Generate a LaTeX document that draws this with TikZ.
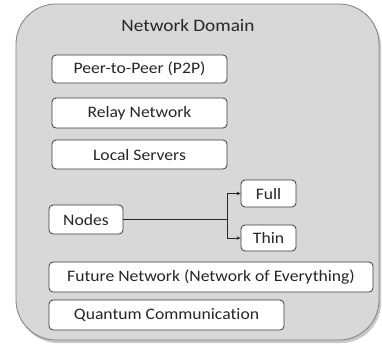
\documentclass[tikz,border=0pt]{standalone}
\usepackage{fontspec}
\setmainfont{Carlito}[FakeStretch=1.1, Ligatures=NoCommon]
\usetikzlibrary{arrows.meta}
\definecolor{domfill}{RGB}{216,216,216}
\definecolor{domline}{RGB}{128,128,128}
\definecolor{boxline}{RGB}{60,60,60}
\tikzset{
  box/.style={draw=boxline, fill=white, rounded corners=4pt, line width=0.8pt, inner sep=0pt, font=\fontsize{16}{18}\selectfont, text=black!85},
  conn/.style={draw=black!85, line width=0.8pt},
  tip/.style={-{Stealth[length=4pt,width=3.5pt]}}
}
\begin{document}
\begin{tikzpicture}[x=1pt,y=-1pt]
\useasboundingbox (0,0) rectangle (382,349);
\path[fill=black!22, rounded corners=40pt] (18,7) rectangle (381,343);
\path[draw=domline, fill=domfill, line width=0.8pt, rounded corners=40pt] (16,4) rectangle (379,340);
\node[font=\fontsize{17.5}{19}\selectfont, text=black!85] (title) at (188,25) {Network Domain};
\node[box, minimum width=175pt, minimum height=28pt] (p2p) at (139.5,69) {Peer-to-Peer (P2P)};
\node[box, minimum width=175pt, minimum height=30pt] (relay) at (139.5,113) {Relay Network};
\node[box, minimum width=175pt, minimum height=29pt] (local) at (139.5,154.5) {Local Servers};
\node[box, minimum width=74pt, minimum height=29pt] (nodes) at (86,219.5) {Nodes};
\node[box, minimum width=55pt, minimum height=27pt] (full) at (268.5,193.5) {Full};
\node[box, minimum width=55pt, minimum height=26pt] (thin) at (268.5,238) {Thin};
\node[box, minimum width=324pt, minimum height=30pt] (future) at (211,277) {Future Network (Network of Everything)};
\node[box, minimum width=235pt, minimum height=30pt] (quantum) at (166.5,315) {Quantum Communication};
\coordinate (j) at (227,219.5);
\draw[conn] (nodes.east) -- (j);
\draw[conn, tip] (j) |- (full.west);
\draw[conn, tip] (j) |- (thin.west);
\end{tikzpicture}
\end{document}
